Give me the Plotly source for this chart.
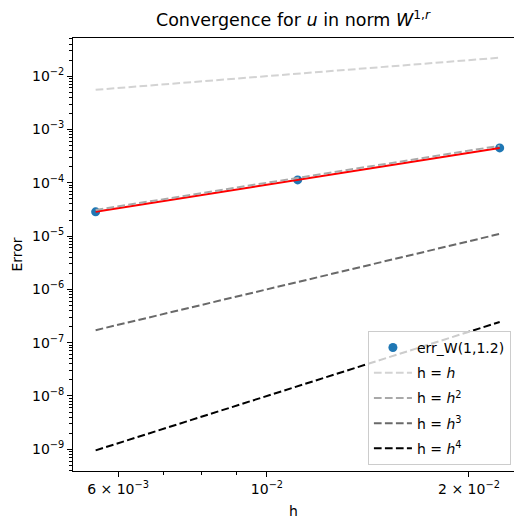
import numpy as np
import plotly.graph_objects as go

# Data
h_vals = [1/180, 1/90, 1/45]
err_vals = [2.85e-5, 1.13e-4, 4.5e-4]
orders = [1, 2, 3, 4]
order_colors = ["#d3d3d3", "#a9a9a9", "#696969", "#000000"]
order_names = ["h = <i>h</i>", "h = <i>h</i><sup>2</sup>", "h = <i>h</i><sup>3</sup>", "h = <i>h</i><sup>4</sup>"]
series_name = "err_W(1,1.2)"

x_ticks = [6e-3, 1e-2, 2e-2]
x_ticktext = ["6 × 10<sup>−3</sup>", "10<sup>−2</sup>", "2 × 10<sup>−2</sup>"]
x_minor = [7e-3, 8e-3, 9e-3]
y_exps = [-2, -3, -4, -5, -6, -7, -8, -9]

h = np.array(h_vals)
err = np.array(err_vals)

FONT = "DejaVu Sans"
TXT = "black"
DASH = "7.7px,3.3px"

fig = go.Figure()

fig.add_trace(go.Scatter(x=h, y=err, mode="markers", name=series_name, legendgroup="g0",
                         marker=dict(color="#1f77b4", size=9), showlegend=True))

# log-log fit
slope, icpt = np.polyfit(np.log10(h), np.log10(err), 1)
fit = 10 ** (icpt + slope * np.log10(h))
fig.add_trace(go.Scatter(x=h, y=fit, mode="lines", line=dict(color="red", width=2),
                         showlegend=False, hoverinfo="skip"))

for i, (p, c, nm) in enumerate(zip(orders, order_colors, order_names)):
    fig.add_trace(go.Scatter(x=h, y=h ** p, mode="lines", name=nm, legendgroup="g%d" % (i + 1),
                             line=dict(color=c, width=2, dash=DASH)))

ytickvals = [10.0 ** e for e in y_exps]
yticktext = ["10<sup>−%d</sup>" % (-e) for e in y_exps]
yminor = [m * 10.0 ** e for e in range(-10, 0) for m in range(2, 10)]

W, H = 514, 522
L, T, B = 73, 38, 51
x_lo = 10 ** (-2.289)
x_hi = 10 ** (-2 + (514 - 267) / 671.0)
y_lo = -9.408
y_hi = -1.284

fig.update_layout(
    width=W, height=H,
    margin=dict(l=L, r=0, t=T, b=B, pad=0),
    paper_bgcolor="white", plot_bgcolor="white",
    font=dict(family=FONT, size=14, color=TXT),
    title=dict(text="Convergence for <i>u</i> in norm <i>W</i><sup>1,<i>r</i></sup>",
               x=(293) / W, xanchor="center", y=1 - 20 / H, yanchor="middle",
               font=dict(family=FONT, size=17.5, color=TXT)),
    legend=dict(x=0.993, xanchor="right", y=0.014, yanchor="bottom",
                bgcolor="rgba(255,255,255,0.8)", bordercolor="#cccccc", borderwidth=1,
                traceorder="grouped", tracegroupgap=4, itemwidth=38,
                font=dict(family=FONT, size=14, color=TXT)),
    showlegend=True,
)

fig.update_xaxes(
    type="log", range=[np.log10(x_lo), np.log10(x_hi)],
    showgrid=False, zeroline=False,
    showline=True, linecolor="black", linewidth=1.1, mirror=True,
    tickmode="array", tickvals=x_ticks, ticktext=x_ticktext,
    ticks="outside", ticklen=4.9, tickwidth=1.1, tickcolor="black",
    tickfont=dict(family=FONT, size=14, color=TXT),
    minor=dict(tickmode="array", tickvals=x_minor, ticks="outside", ticklen=2.8,
               tickwidth=0.8, tickcolor="black", showgrid=False),
    title=dict(text="h", font=dict(family=FONT, size=14, color=TXT), standoff=10),
)
fig.update_yaxes(
    type="log", range=[y_lo, y_hi],
    showgrid=False, zeroline=False,
    showline=True, linecolor="black", linewidth=1.1, mirror=False,
    tickmode="array", tickvals=ytickvals, ticktext=yticktext,
    ticks="outside", ticklen=4.9, tickwidth=1.1, tickcolor="black",
    tickfont=dict(family=FONT, size=14, color=TXT),
    minor=dict(tickmode="array", tickvals=yminor, ticks="outside", ticklen=2.8,
               tickwidth=0.8, tickcolor="black", showgrid=False),
    title=dict(text="Error", font=dict(family=FONT, size=14, color=TXT), standoff=6),
)

fig.write_html("out.html")
